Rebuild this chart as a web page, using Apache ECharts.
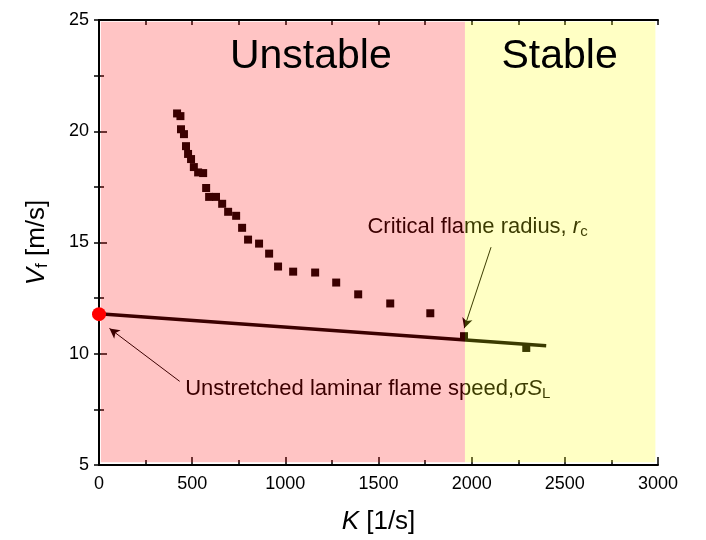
<!DOCTYPE html>
<html>
<head>
    <meta charset="utf-8">
    <title>Flame speed vs stretch</title>
    <script src="https://cdn.jsdelivr.net/npm/echarts@6/dist/echarts.min.js"></script>
    <style>
        html, body { margin: 0; padding: 0; background: #fff; }
    </style>
</head>
<body>
    <div id="main" style="width:706px;height:540px;"></div>
    <script type="text/javascript">
    // measured points: stretch rate K [1/s] and flame speed Vf [m/s]
    var kData = [419, 437, 440, 456, 467, 478, 494, 509, 532, 559, 575, 591, 628, 661, 693,
                 736, 768, 800, 859, 913, 961, 1042, 1160, 1273, 1391, 1563, 1778, 1959, 2293];
    var vData = [20.80, 20.68, 20.09, 19.87, 19.33, 18.98, 18.75, 18.39, 18.15, 18.12, 17.45, 17.05, 17.05, 16.74, 16.38,
                 16.20, 15.66, 15.13, 14.95, 14.50, 13.92, 13.69, 13.65, 13.20, 12.67, 12.26, 11.82, 10.79, 10.26];

    // linear extrapolation line
    var fitK = [0, 2400];
    var fitV = [11.80, 10.36];

    // unstretched flame speed (K = 0)
    var sL = [0, 11.78];

    // region limits
    var kCritical = 1964;
    var xTicks = [0, 500, 1000, 1500, 2000, 2500, 3000];
    var yTicks = [5, 10, 15, 20, 25];

    var font = 'Liberation Sans, Arial, sans-serif';

    var points = [];
    for (var i = 0; i < kData.length; i++) {
        points.push([kData[i], vData[i]]);
    }
    var fitLine = [];
    for (var j = 0; j < fitK.length; j++) {
        fitLine.push([fitK[j], fitV[j]]);
    }

    var myChart = echarts.init(document.getElementById('main'), null, { renderer: 'canvas' });

    var option = {
        animation: false,
        textStyle: { fontFamily: font },
        grid: { left: 99, right: 48, top: 20, bottom: 73 },
        xAxis: [{
            type: 'value',
            position: 'bottom',
            min: xTicks[0], max: xTicks[xTicks.length - 1], interval: 500,
            name: '{i|K} [1/s]',
            nameLocation: 'middle',
            nameGap: 44,
            nameTextStyle: {
                fontSize: 26, color: '#000', fontFamily: font,
                rich: { i: { fontSize: 26, fontStyle: 'italic', color: '#000', fontFamily: font } }
            },
            axisLine: { lineStyle: { color: '#000', width: 2 } },
            axisTick: { inside: true, length: 8, lineStyle: { color: '#000', width: 1.5 } },
            minorTick: { show: true, splitNumber: 2, length: 5, lineStyle: { color: '#000', width: 1.5 } },
            axisLabel: {
                fontSize: 18, color: '#000', margin: 10, fontFamily: font,
                formatter: function (v) { return String(v); }
            },
            splitLine: { show: false }
        }, {
            type: 'value',
            position: 'top',
            min: 0, max: 3000, interval: 250,
            axisLine: { lineStyle: { color: '#000', width: 2 } },
            axisTick: { inside: true, length: 5, lineStyle: { color: '#000', width: 1.5 } },
            axisLabel: { show: false },
            splitLine: { show: false }
        }],
        yAxis: [{
            type: 'value',
            position: 'left',
            min: yTicks[0], max: yTicks[yTicks.length - 1], interval: 5,
            name: '{i|V}{s|f} [m/s]',
            nameLocation: 'middle',
            nameGap: 48,
            nameTextStyle: {
                fontSize: 26, color: '#000', fontFamily: font,
                rich: {
                    i: { fontSize: 26, fontStyle: 'italic', color: '#000', fontFamily: font },
                    s: { fontSize: 17, color: '#000', fontFamily: font, padding: [12, 0, 0, 0] }
                }
            },
            axisLine: { lineStyle: { color: '#000', width: 2 } },
            axisTick: { inside: true, length: 8, lineStyle: { color: '#000', width: 1.5 } },
            minorTick: { show: true, splitNumber: 2, length: 5, lineStyle: { color: '#000', width: 1.5 } },
            axisLabel: { fontSize: 18, color: '#000', margin: 10, fontFamily: font },
            splitLine: { show: false }
        }, {
            type: 'value',
            position: 'right',
            min: 5, max: 25, interval: 2.5,
            axisLine: { lineStyle: { color: '#000', width: 2 } },
            axisTick: { inside: true, length: 5, lineStyle: { color: '#000', width: 1.5 } },
            axisLabel: { show: false },
            splitLine: { show: false }
        }],
        series: [{
            // experimental points
            type: 'scatter',
            z: 2,
            symbol: 'rect',
            symbolSize: 8,
            itemStyle: { color: '#000', opacity: 1 },
            data: points
        }, {
            // extrapolation line
            type: 'line',
            z: 2,
            showSymbol: false,
            lineStyle: { color: '#000', width: 3.5, opacity: 1 },
            data: fitLine
        }, {
            // annotations (drawn under the tinted regions)
            type: 'scatter',
            z: 3,
            data: [],
            markLine: {
                silent: true,
                z: 3,
                symbol: ['none', 'arrow'],
                symbolSize: [8, 10],
                lineStyle: { color: '#000', width: 1, type: 'solid', opacity: 1 },
                label: { show: false },
                data: [
                    [{ coord: [2104, 14.79] }, { coord: [1960, 11.15] }],
                    [{ coord: [433, 8.76] }, { coord: [56, 11.14] }]
                ]
            },
            markPoint: {
                silent: true,
                z: 3,
                symbol: 'circle',
                symbolSize: 1,
                itemStyle: { color: 'rgba(0,0,0,0)' },
                label: {
                    show: true,
                    position: 'right',
                    distance: 0,
                    color: '#000',
                    fontSize: 22,
                    fontFamily: font,
                    rich: {
                        n: { fontSize: 22, color: '#000', fontFamily: font },
                        i: { fontSize: 22, fontStyle: 'italic', color: '#000', fontFamily: font },
                        s: { fontSize: 15, color: '#000', fontFamily: font, padding: [10, 0, 0, 0] }
                    }
                },
                data: [
                    { coord: [1438, 15.72], label: { formatter: '{n|Critical flame radius, }{i|r}{s|c}' } },
                    { coord: [460, 8.43], label: { formatter: '{n|Unstretched laminar flame speed,}{i|\u03c3S}{s|L}' } }
                ]
            }
        }, {
            // tinted stability regions laid over the data
            type: 'line',
            z: 10,
            data: [],
            markArea: {
                silent: true,
                z: 10,
                data: [
                    [{ coord: [10, 5.12], itemStyle: { color: 'rgba(255,0,0,0.23)', opacity: 1 } }, { coord: [kCritical, 24.92] }],
                    [{ coord: [kCritical, 5.12], itemStyle: { color: 'rgba(255,255,0,0.23)', opacity: 1 } }, { coord: [2986, 24.92] }]
                ]
            }
        }, {
            // region titles
            type: 'scatter',
            z: 20,
            symbolSize: 1,
            itemStyle: { color: 'rgba(0,0,0,0)', opacity: 1 },
            label: {
                show: true,
                position: 'inside',
                fontSize: 41,
                color: '#000',
                opacity: 1,
                fontFamily: font,
                formatter: function (p) { return p.name; }
            },
            data: [
                { name: 'Unstable', value: [1137, 23.34] },
                { name: 'Stable', value: [2472, 23.34] }
            ]
        }, {
            // unstretched laminar flame speed point
            type: 'scatter',
            z: 21,
            symbol: 'circle',
            symbolSize: 14,
            itemStyle: { color: '#ff0000', opacity: 1 },
            data: [sL]
        }]
    };
    myChart.setOption(option);
    </script>
</body>
</html>
